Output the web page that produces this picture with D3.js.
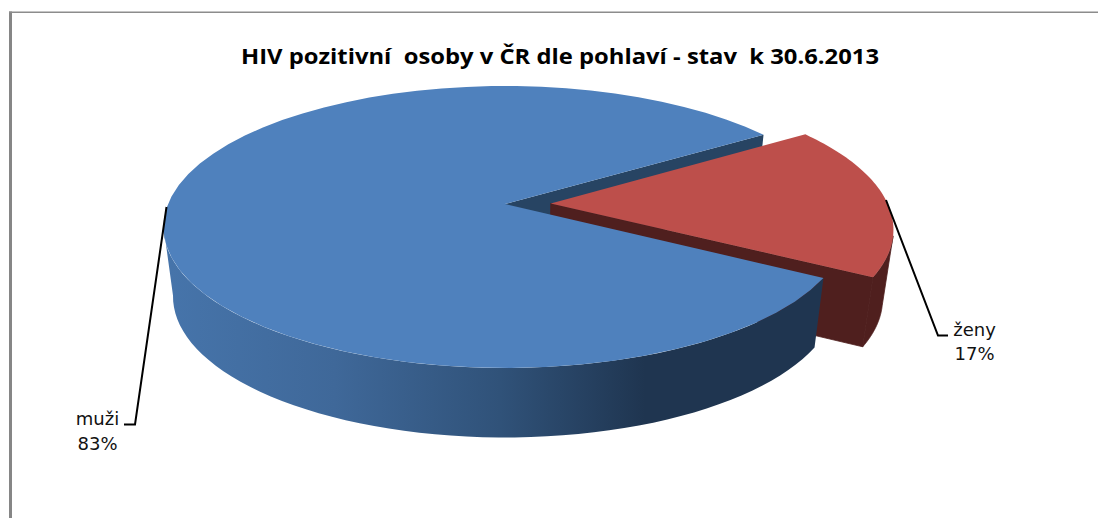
<!DOCTYPE html>
<html><head><meta charset="utf-8">
<script src="https://cdn.jsdelivr.net/npm/d3@7"></script>
<style>html,body{margin:0;background:#fff}svg{display:block}</style></head>
<body><svg id="c" width="1098" height="518"></svg>
<script>
const categories = ["muži", "ženy"];
const shares = [82.5, 17.5];
const shareLabels = ["83%", "17%"];
const titleText = "HIV pozitivní  osoby v ČR dle pohlaví - stav  k 30.6.2013";
const topColors = ["#4f81bd", "#bd4f4b"];
const wallStops = [[0,"#4674aa"],[0.25,"#3f6899"],[0.5,"#305279"],[0.72,"#1f3550"],[1,"#1f3550"]];

const svg = d3.select("#c");
const deg = Math.PI/180;
const pie = d3.pie().sort(null).startAngle(119.7*deg).endAngle(479.7*deg);
const arcs = pie(shares);

// perspective projection of the pie disc
const cx=505, A=337, k=-0.163, b=104, c0=204, depth=69.5, shrink=0.972, explode=0.136;
const topP=(u,v)=>{const w=1+k*v;return [cx+A*u/w,(b*v+c0)/w];};
const botP=(u,v)=>{const p=topP(u,v);return [cx+(p[0]-cx)*shrink,p[1]+depth];};
const disc=(a,off)=>[Math.sin(a)+off[0],-Math.cos(a)+off[1]];
const samples=(a0,a1)=>d3.range(0,61).map(i=>a0+(a1-a0)*i/60);
const line=d3.line();

const grad=svg.append("defs").append("linearGradient").attr("id","wall")
  .attr("gradientUnits","userSpaceOnUse").attr("x1",170).attr("x2",830).attr("y1",0).attr("y2",0);
wallStops.forEach(s=>grad.append("stop").attr("offset",s[0]).attr("stop-color",s[1]));

// frame
svg.append("rect").attr("x",9).attr("y",11.5).attr("width",3).attr("height",506.5).attr("fill","#868686");
svg.append("rect").attr("x",9).attr("y",11.5).attr("width",1089).attr("height",1.5).attr("fill","#8c8c8c");

const [blue,red]=arcs;
const mid=(red.startAngle+red.endAngle)/2;
const rOff=[Math.sin(mid)*explode,-Math.cos(mid)*explode];
const o0=[0,0];
const poly=(pts,fill,stroke)=>svg.append("path").attr("d",line(pts)+"Z").attr("fill",fill).attr("stroke",stroke||"none").attr("stroke-width",stroke?0.8:0);
const rim=(P,a0,a1,off)=>samples(a0,a1).map(a=>P(...disc(a,off)));

// blue inner cut wall
poly([topP(0,0),topP(...disc(blue.endAngle,o0)),botP(...disc(blue.endAngle,o0)),botP(0,0)],"#274463");
// red cut wall and outer wall
poly([topP(...rOff),topP(...disc(red.endAngle,rOff)),botP(...disc(red.endAngle,rOff)),botP(...rOff)],"#4f1f1e","#4f1f1e");
const redEdge=mid+15*deg;
poly(rim(topP,redEdge,red.endAngle,rOff).concat(rim(botP,redEdge,red.endAngle,rOff).reverse()),"#4f1f1e","#4f1f1e");
// red top
poly([topP(...rOff)].concat(rim(topP,red.startAngle,red.endAngle,rOff)),topColors[1]);
// blue outer wall (front half only) and top
const silhouette=261*deg;
poly(rim(topP,blue.startAngle,silhouette,o0).concat(rim(botP,blue.startAngle,silhouette,o0).reverse()),"url(#wall)");
poly([topP(0,0)].concat(rim(topP,blue.startAngle,blue.endAngle,o0)),topColors[0]);

// leaders
const leaders=[[[166.5,207],[135,424.5],[124,424.5]],[[886,200],[938,335.5],[948,335.5]]];
leaders.forEach(l=>svg.append("path").attr("d",line(l)).attr("fill","none").attr("stroke","#000").attr("stroke-width",2));

const font="'DejaVu Sans',sans-serif";
svg.append("text").attr("x",560).attr("y",64).attr("text-anchor","middle").attr("xml:space","preserve")
  .style("white-space","pre").attr("font-family","'Open Sans',sans-serif").attr("font-weight",700).attr("font-size",21)
  .attr("textLength",638).attr("lengthAdjust","spacingAndGlyphs").attr("fill","#000").text(titleText);
const labelPos=[[97.5,425,450],[974.5,336,360]];
categories.forEach((n,i)=>{
  svg.append("text").attr("x",labelPos[i][0]).attr("y",labelPos[i][1]).attr("text-anchor","middle").attr("font-family",font).attr("font-size",18).attr("fill","#111").text(n);
  svg.append("text").attr("x",labelPos[i][0]).attr("y",labelPos[i][2]).attr("text-anchor","middle").attr("font-family",font).attr("font-size",18).attr("fill","#111").text(shareLabels[i]);
});
</script></body></html>
